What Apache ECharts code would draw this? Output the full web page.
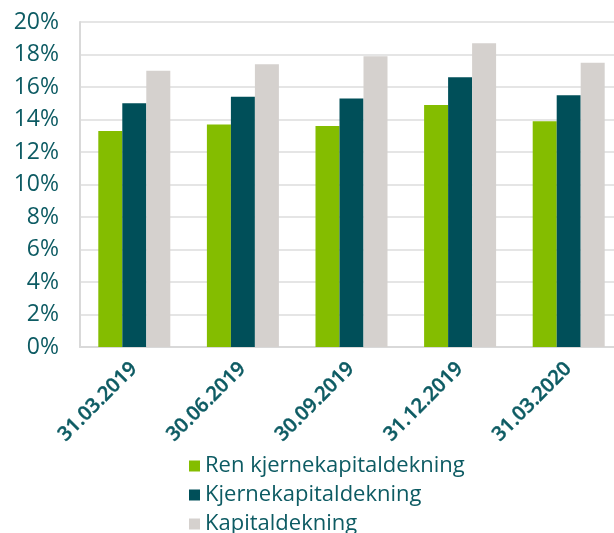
<!DOCTYPE html>
<html>
<head>
<meta charset="utf-8">
<script src="https://cdn.jsdelivr.net/npm/echarts@6/dist/echarts.min.js"></script>
<style>
html,body{margin:0;padding:0;background:#fff;}
#chart{width:614px;height:533px;}
</style>
</head>
<body>
<div id="chart"></div>
<script>
const categories = ['31.03.2019', '30.06.2019', '30.09.2019', '31.12.2019', '31.03.2020'];
const renKjerne = [13.3, 13.7, 13.6, 14.9, 13.9];
const kjerne = [15.0, 15.4, 15.3, 16.6, 15.5];
const kapital = [17.0, 17.4, 17.9, 18.7, 17.5];
const yTicks = [0, 2, 4, 6, 8, 10, 12, 14, 16, 18, 20];

const textColor = '#0d5b63';
const font = '"Open Sans", "Noto Sans", sans-serif';

const chart = echarts.init(document.getElementById('chart'), null, {renderer: 'canvas'});
chart.setOption({
  animation: false,
  backgroundColor: '#ffffff',
  grid: {left: 80, width: 543, top: 22, height: 325, containLabel: false, outerBoundsMode: 'none'},
  legend: {
    orient: 'vertical',
    left: 189,
    top: 455,
    height: 140,
    itemWidth: 11,
    itemHeight: 11,
    itemGap: 7,
    icon: 'rect',
    padding: 0,
    textStyle: {color: textColor, fontSize: 22, fontFamily: font, lineHeight: 19},
    data: ['Ren kjernekapitaldekning', 'Kjernekapitaldekning', 'Kapitaldekning']
  },
  xAxis: {
    type: 'category',
    data: categories,
    axisLine: {show: true, lineStyle: {color: '#d9d9d9', width: 2}},
    axisTick: {show: false},
    axisLabel: {
      rotate: 45,
      interval: 0,
      margin: 19,
      color: textColor,
      fontSize: 20,
      fontWeight: 600,
      fontFamily: '"Open Sans SemiBold", "Open Sans", sans-serif',
      textBorderColor: textColor,
      textBorderWidth: 0.4
    }
  },
  yAxis: {
    type: 'value',
    min: yTicks[0],
    max: yTicks[yTicks.length - 1],
    interval: 2,
    axisLine: {show: true, lineStyle: {color: '#d9d9d9', width: 2}},
    axisTick: {show: false},
    splitLine: {show: true, lineStyle: {color: '#dcdcdc', width: 1.5}},
    axisLabel: {
      margin: 21,
      color: textColor,
      fontSize: 23,
      fontFamily: font,
      formatter: v => v + '%'
    }
  },
  series: [
    {name: 'Ren kjernekapitaldekning', type: 'bar', data: renKjerne, barWidth: 24, barGap: '0%',
     itemStyle: {color: '#84bd00'}},
    {name: 'Kjernekapitaldekning', type: 'bar', data: kjerne, barWidth: 24, barGap: '0%',
     itemStyle: {color: '#004f59'}},
    {name: 'Kapitaldekning', type: 'bar', data: kapital, barWidth: 24, barGap: '0%',
     itemStyle: {color: '#d5d1ce'}}
  ]
});
</script>
</body>
</html>
